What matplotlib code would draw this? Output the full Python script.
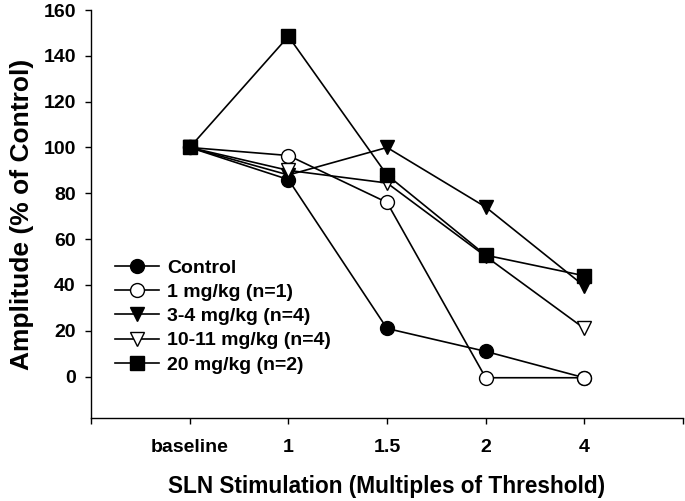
import matplotlib
matplotlib.use("Agg")
import matplotlib.pyplot as plt

plt.rcParams['font.family'] = ['Liberation Sans', 'DejaVu Sans']
plt.rcParams['font.weight'] = 'bold'

# data
categories = ['baseline', '1', '1.5', '2', '4']
control = [100, 86, 21, 11, -0.5]
dose_1 = [100, 96.5, 76, -0.5, -0.5]
dose_3_4 = [100, 88, 100, 74, 39.5]
dose_10_11 = [100, 90, 84.5, 52.5, 21]
dose_20 = [100, 148.5, 88, 53, 44]

series = [
    ('Control', control, 'o', 'black'),
    ('1 mg/kg (n=1)', dose_1, 'o', 'white'),
    ('3-4 mg/kg (n=4)', dose_3_4, 'v', 'black'),
    ('10-11 mg/kg (n=4)', dose_10_11, 'v', 'white'),
    ('20 mg/kg (n=2)', dose_20, 's', 'black'),
]

fig = plt.figure(figsize=(6.85, 5.01), dpi=100)
ax = fig.add_axes([0.133, 0.166, 0.864, 0.814])

x = list(range(len(categories)))
for name, vals, mk, fc in series:
    ax.plot(x, vals, marker=mk, color='black', markerfacecolor=fc,
            markeredgecolor='black', markersize=10, markeredgewidth=1.0,
            linewidth=1.2, label=name)

ax.set_xlim(-1, 5)
ax.set_ylim(-18, 160)
ax.set_xticks(range(-1, 6))
ax.set_xticklabels([''] + categories + [''])
ax.set_yticks(range(0, 161, 20))

for s in ['top', 'right']:
    ax.spines[s].set_visible(False)
for s in ['left', 'bottom']:
    ax.spines[s].set_linewidth(1.0)

ax.tick_params(axis='both', direction='out', length=4, width=1, labelsize=14)
ax.tick_params(axis='x', pad=11)
ax.tick_params(axis='y', pad=7)

ax.set_xlabel('SLN Stimulation (Multiples of Threshold)', fontsize=16.3,
              fontweight='bold', labelpad=14)
ax.set_ylabel('Amplitude (% of Control)', fontsize=19, fontweight='bold',
              labelpad=7)

ax.legend(loc='upper left', bbox_to_anchor=(0.153, 0.502),
          bbox_transform=fig.transFigure, frameon=False, borderpad=0,
          handlelength=2.27, handletextpad=0.42,
          labelspacing=0.34, prop={'weight': 'bold', 'size': 14})

fig.savefig('out.png', dpi=100)
